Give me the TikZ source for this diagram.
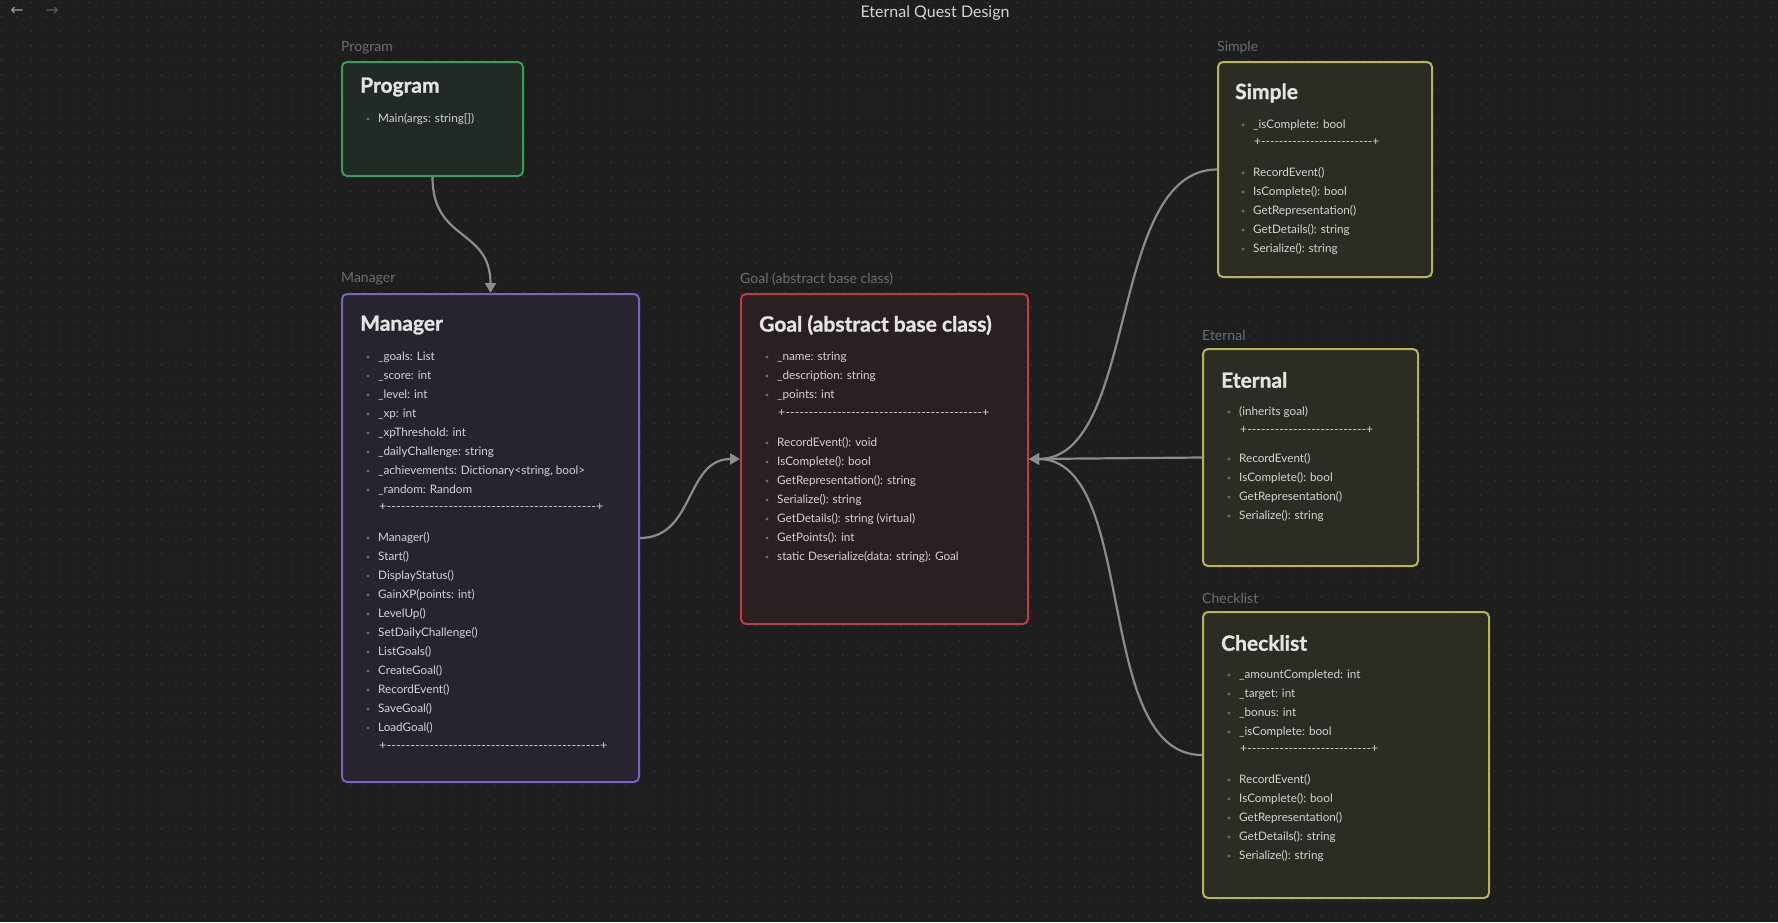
\documentclass[tikz,border=0pt]{standalone}
\usepackage{fontspec}
\usepackage{graphicx}
\setmainfont{Lato}[Ligatures=TeXOff]
\newfontfamily\ttlfont{Lato}[Ligatures=TeXOff, BoldFeatures={FakeBold=1.2}]
\newfontfamily\symfont{DejaVu Sans}
\usetikzlibrary{arrows.meta}
\definecolor{bg}{HTML}{1E1E1E}
\definecolor{dotc}{HTML}{2E2E2E}
\definecolor{itemc}{HTML}{D4D4D4}
\definecolor{titlec}{HTML}{E4E4E4}
\definecolor{labc}{HTML}{6A6E73}
\definecolor{bulc}{HTML}{6C6C6C}
\definecolor{backc}{HTML}{9A9A9A}
\definecolor{fwdc}{HTML}{5A5A5A}
\definecolor{connc}{HTML}{8C8C8C}
\definecolor{gfill}{HTML}{222A25}
\definecolor{gdraw}{HTML}{37A055}
\definecolor{pfill}{HTML}{27242F}
\definecolor{pdraw}{HTML}{7B5FC2}
\definecolor{rfill}{HTML}{2B2021}
\definecolor{rdraw}{HTML}{C23B41}
\definecolor{yfill}{HTML}{2D2C24}
\definecolor{ydraw}{HTML}{B8B45A}
\newcommand\mitems[4]{%
  \foreach \t [count=\k from 0] in {#4} {
    \fill[bulc] ({#2-10},{#3+19*\k}) circle (1.6);
    \node[item, name=#1\k] at (#2,{#3+19*\k}) {\t};
  }}
\begin{document}
\begin{tikzpicture}[x=1pt,y=-1pt,
  box/.style={rectangle, rounded corners=5pt, line width=2pt, inner sep=0pt, anchor=north west},
  item/.style={anchor=west, inner sep=0pt, text=itemc, font=\fontsize{11.7}{14}\selectfont},
  ttl/.style={anchor=west, inner sep=0pt, text=titlec, font=\ttlfont\fontsize{21}{24}\selectfont\bfseries},
  lab/.style={anchor=west, inner sep=0pt, text=labc, font=\fontsize{14}{16}\selectfont},
  conn/.style={draw=connc, line width=2.2pt, -{Triangle[length=10pt,width=11pt]}}]
\fill[bg] (0,0) rectangle (1778,922);
\useasboundingbox (0,0) rectangle (1778,922);
\foreach \j in {0,...,63} {\fill[dotc] \foreach \i in {0,...,122} {({1.2+14.5*\i},{1.7+14.5*\j}) rectangle ++(1.6,1.6)};}
% top bar
\node[inner sep=0pt, text=itemc, font=\fontsize{16}{18}\selectfont] (title) at (935,13) {Eternal Quest Design};
\node[inner sep=0pt, text=backc, font=\symfont\fontsize{16}{18}\selectfont] (back) at (17,11) {←};
\node[inner sep=0pt, text=fwdc, font=\symfont\fontsize{16}{18}\selectfont] (fwd) at (52,11) {→};
% boxes
\node[box, fill=gfill, draw=gdraw, minimum width=181pt, minimum height=114pt] (prog) at (341,61) {};
\node[box, fill=pfill, draw=pdraw, minimum width=297pt, minimum height=488pt] (mgr) at (341,293) {};
\node[box, fill=rfill, draw=rdraw, minimum width=287pt, minimum height=330pt] (goal) at (740,293) {};
\node[box, fill=yfill, draw=ydraw, minimum width=214pt, minimum height=215pt] (simple) at (1217,61) {};
\node[box, fill=yfill, draw=ydraw, minimum width=215pt, minimum height=217pt] (eternal) at (1202,348) {};
\node[box, fill=yfill, draw=ydraw, minimum width=286pt, minimum height=286pt] (check) at (1202,611) {};
% labels
\node[lab] (lprog) at (341,48) {Program};
\node[lab] (lmgr) at (341,279) {Manager};
\node[lab] (lgoal) at (740,279) {Goal (abstract base class)};
\node[lab] (lsimple) at (1217,48) {Simple};
\node[lab] (leternal) at (1202,335) {Eternal};
\node[lab] (lcheck) at (1202,598) {Checklist};
% Program
\node[ttl] (tprog) at (360,87) {Program};
\mitems{pa}{378}{119}{Main(args: string[])}
% Manager
\node[ttl] (tmgr) at (360,325) {Manager};
\mitems{ma}{378}{357}{\_goals: List, \_score: int, \_level: int, \_xp: int, \_xpThreshold: int, \_dailyChallenge: string, {\_achievements: Dictionary<string, bool>}, \_random: Random}
\node[item] (ms1) at (379,507) {\resizebox{224pt}{\height}{+--------------------------------------------+}};
\mitems{mm}{378}{538}{Manager(), Start(), DisplayStatus(), GainXP(points: int), LevelUp(), SetDailyChallenge(), ListGoals(), CreateGoal(), RecordEvent(), SaveGoal(), LoadGoal()}
\node[item] (ms2) at (379,746) {\resizebox{228pt}{\height}{+---------------------------------------------+}};
% Goal
\node[ttl] (tgoal) at (759,325) {Goal (abstract base class)};
\mitems{ga}{777}{357}{\_name: string, \_description: string, \_points: int}
\node[item] (gs) at (778,413) {\resizebox{211pt}{\height}{+------------------------------------------+}};
\mitems{gm}{777}{443}{RecordEvent(): void, IsComplete(): bool, GetRepresentation(): string, Serialize(): string, GetDetails(): string (virtual), GetPoints(): int, static Deserialize(data: string): Goal}
% Simple
\node[ttl] (tsimple) at (1235,93) {Simple};
\mitems{sa}{1253}{125}{\_isComplete: bool}
\node[item] (ss) at (1254,142) {\resizebox{125pt}{\height}{+-------------------------+}};
\mitems{sm}{1253}{173}{RecordEvent(), IsComplete(): bool, GetRepresentation(), GetDetails(): string, Serialize(): string}
% Eternal
\node[ttl] (teternal) at (1221,380) {Eternal};
\mitems{ea}{1239}{412}{(inherits goal)}
\node[item] (es) at (1240,430) {\resizebox{133pt}{\height}{+--------------------------+}};
\mitems{em}{1239}{459}{RecordEvent(), IsComplete(): bool, GetRepresentation(), Serialize(): string}
% Checklist
\node[ttl] (tcheck) at (1221,643) {Checklist};
\mitems{ca}{1239}{675}{\_amountCompleted: int, \_target: int, \_bonus: int, \_isComplete: bool}
\node[item] (cs) at (1240,749) {\resizebox{138pt}{\height}{+---------------------------+}};
\mitems{cm}{1239}{780}{RecordEvent(), IsComplete(): bool, GetRepresentation(), GetDetails(): string, Serialize(): string}
% connectors
\draw[conn] (prog.south) .. controls +(0,65) and +(0,-65) .. (mgr.north);
\draw[conn] (mgr.east) .. controls +(55,0) and +(-55,0) .. (goal.west);
\draw[conn] (simple.west) .. controls +(-110,0) and +(110,0) .. (goal.east);
\draw[conn] (eternal.west) -- (goal.east);
\draw[conn] (check.west) .. controls +(-110,0) and +(110,0) .. (goal.east);
\end{tikzpicture}
\end{document}
